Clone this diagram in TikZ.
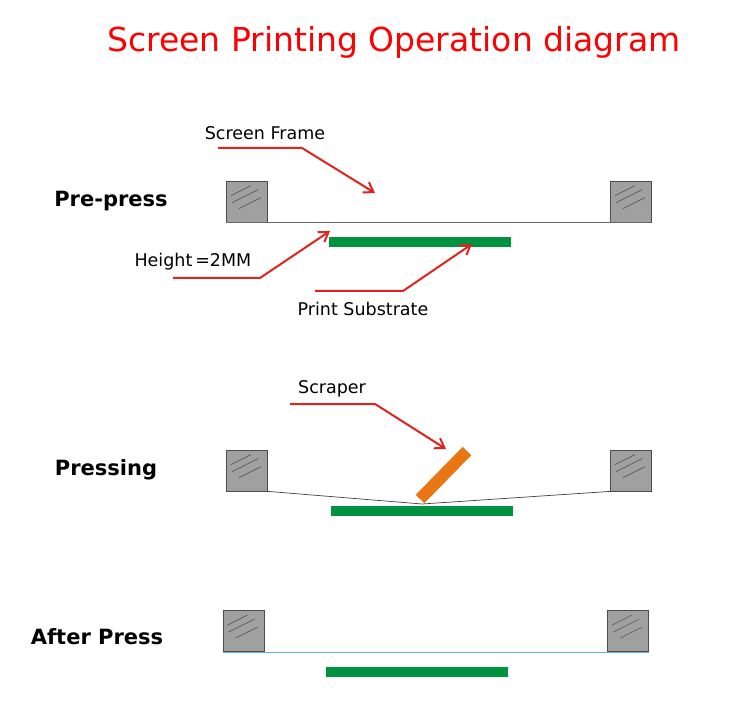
\documentclass[tikz,border=0pt]{standalone}
\usepackage{fontspec}
\setmainfont{DejaVu Sans}
\usetikzlibrary{arrows.meta}
\definecolor{grn}{RGB}{0,146,63}
\definecolor{org}{RGB}{232,118,20}
\definecolor{rd}{RGB}{225,35,30}
\definecolor{frm}{RGB}{160,160,160}
\tikzset{
  frame/.style={draw=black!70,fill=frm,minimum size=41pt,inner sep=0pt,line width=0.8pt},
  sub/.style={fill=grn,inner sep=0pt,minimum width=182pt,minimum height=10pt},
  lbl/.style={font=\bfseries\fontsize{21}{21}\selectfont,anchor=center},
  txt/.style={font=\fontsize{17.5}{17.5}\selectfont,anchor=center},
  redarr/.style={draw=rd,line width=2pt,-{Straight Barb[length=9pt,width=12pt,line width=2pt]}}
}
\newcommand{\hatch}[1]{%
  \draw[black!70,line width=0.5pt] ([shift={(5pt,-15pt)}]#1.north west) -- ++(20pt,10pt)
   ([shift={(6pt,-22pt)}]#1.north west) -- ++(26pt,13pt)
   ([shift={(13pt,-28pt)}]#1.north west) -- ++(22pt,11pt);}
\begin{document}
\begin{tikzpicture}[x=1pt,y=-1pt]
\useasboundingbox (0,0) rectangle (750,703);
\node[font=\fontsize{33}{33}\selectfont,text=red] (title) at (394,42) {Screen Printing Operation diagram};
% Pre-press
\node[lbl] (l1) at (111,201) {Pre-press};
\node[frame] (f1a) at (247,201.5) {};
\node[frame] (f1b) at (631,201.5) {};
\hatch{f1a}\hatch{f1b}
\draw[black!60,line width=0.8pt] (f1a.south west) -- (f1b.south east);
\node[sub] (s1) at (420,242) {};
\node[txt] (t1) at (265,133) {Screen Frame};
\coordinate (a1) at (375,193);
\draw[redarr] (218,148) -- (302,148) -- (a1);
\node[txt,anchor=west] (t2) at (131,262) {Height\,=2MM};
\coordinate (a2) at (330,231);
\draw[redarr] (173,278) -- (260,278) -- (a2);
\node[txt] (t3) at (363,309) {Print Substrate};
\coordinate (a3) at (472,244);
\draw[redarr] (315,291) -- (403,291) -- (a3);
% Pressing
\node[lbl] (l2) at (106,470) {Pressing};
\node[frame] (f2a) at (247,470.5) {};
\node[frame] (f2b) at (631,470.5) {};
\hatch{f2a}\hatch{f2b}
\coordinate (tip) at (422,504);
\draw[black!75,line width=0.7pt] (f2a.south east) -- (tip) -- (f2b.south west);
\node[sub] (s2) at (422,510.5) {};
\draw[org,line width=12pt] (420,499) -- (467,451);
\node[txt] (t4) at (332,389) {Scraper};
\coordinate (a4) at (446,449);
\draw[redarr] (290,404) -- (375,404) -- (a4);
% After press
\node[lbl] (l3) at (97,637) {After Press};
\node[frame] (f3a) at (243.5,631) {};
\node[frame] (f3b) at (628,631) {};
\hatch{f3a}\hatch{f3b}
\draw[cyan!70!blue!60,line width=0.8pt] (f3a.south west) -- (f3b.south east);
\node[sub] (s3) at (417,671.5) {};
\end{tikzpicture}
\end{document}
